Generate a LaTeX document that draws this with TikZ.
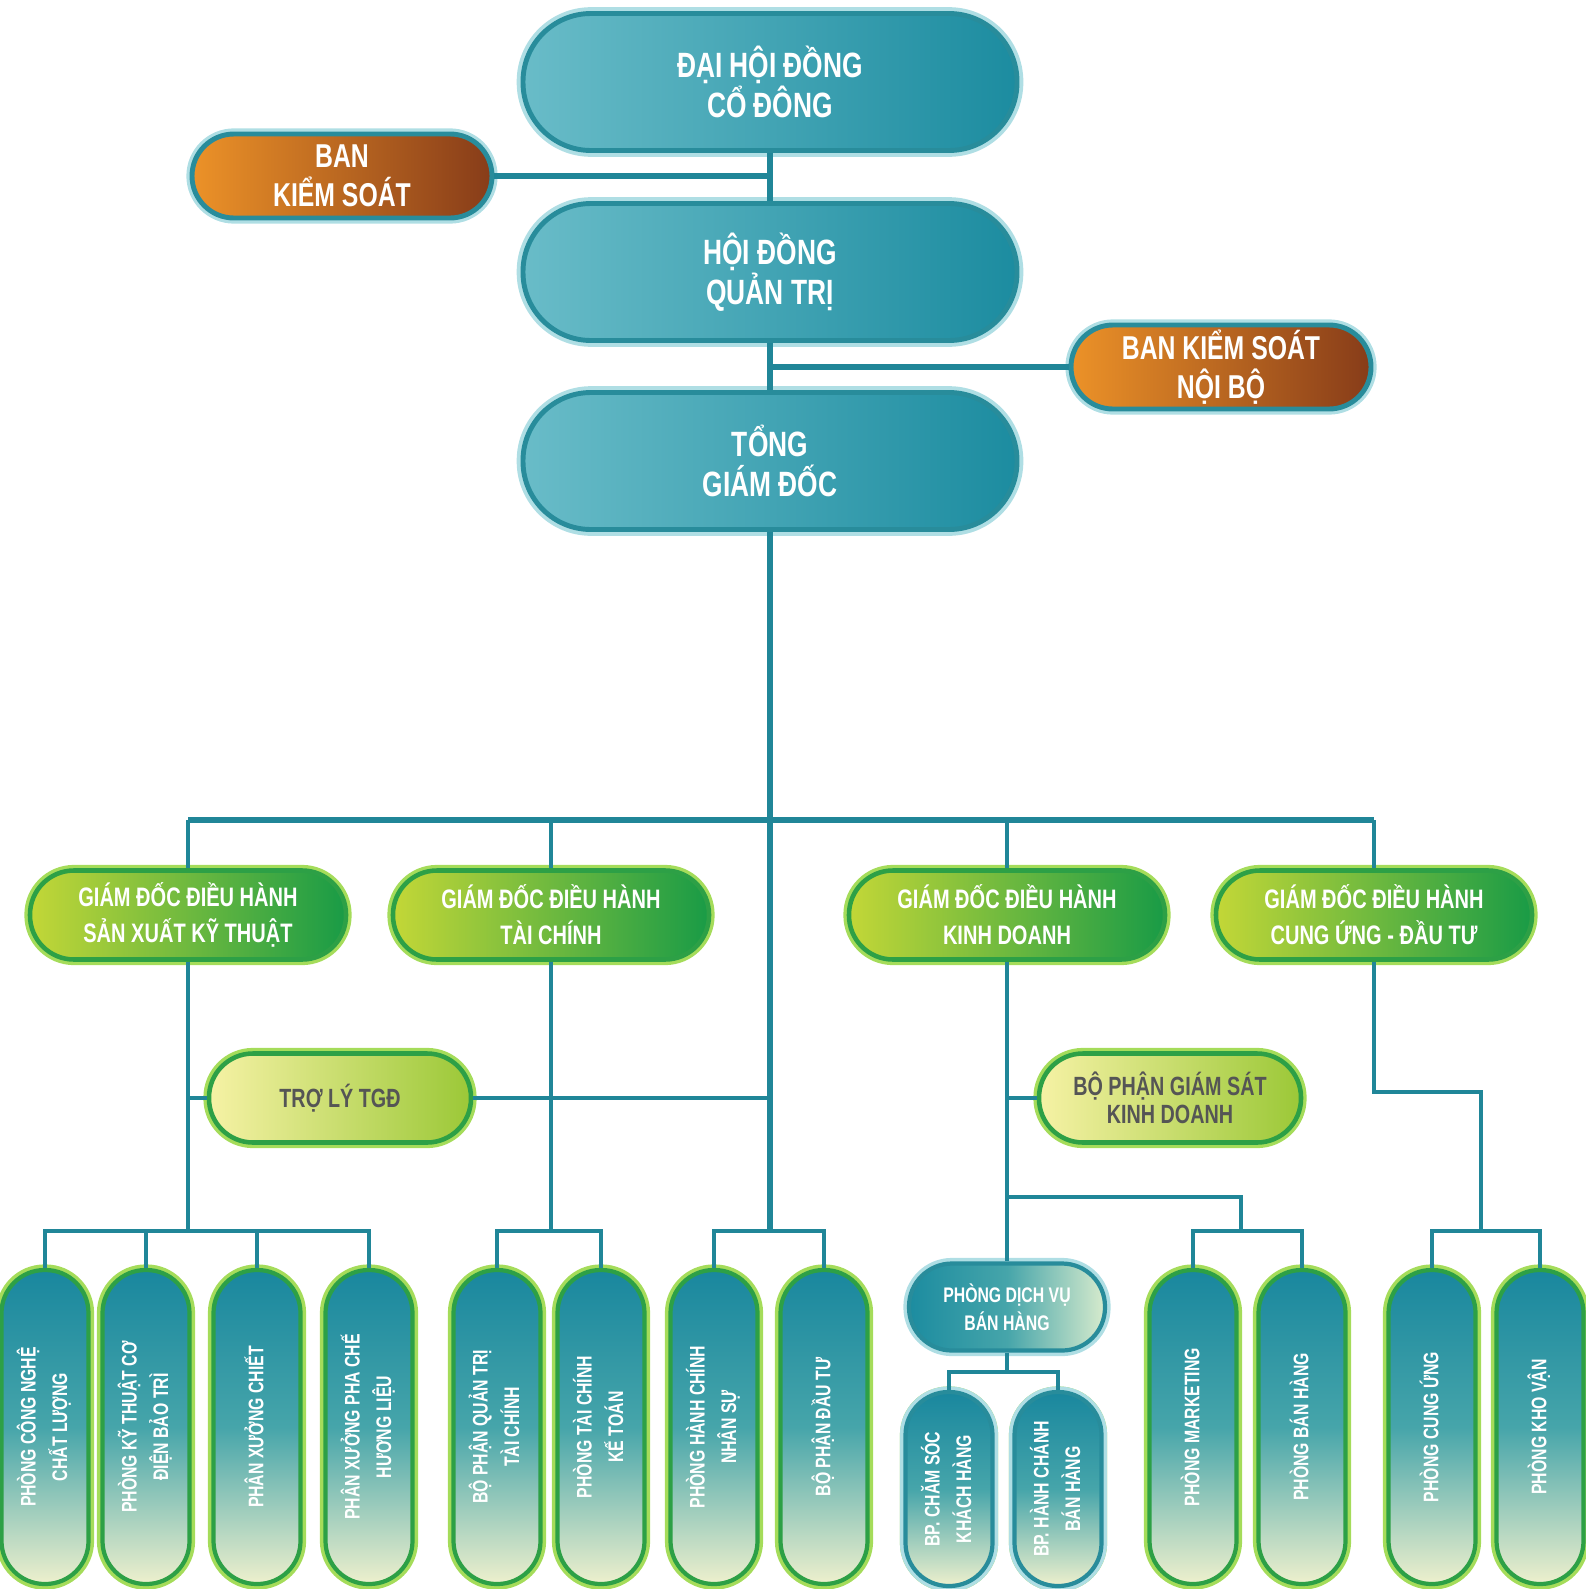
\documentclass[tikz,border=0pt]{standalone}
\usepackage{fontspec}
\usepackage{graphicx}
\usepackage{tikz}
\usetikzlibrary{calc}
\newfontfamily\orgfont[FakeStretch=0.75]{Liberation Sans}

\definecolor{linecol}{RGB}{32,134,152}
\definecolor{topL}{RGB}{105,188,200}
\definecolor{topR}{RGB}{28,140,160}
\definecolor{topB}{RGB}{40,140,155}
\definecolor{topG}{RGB}{175,222,228}
\definecolor{orL}{RGB}{236,146,40}
\definecolor{orR}{RGB}{135,60,25}
\definecolor{gdL}{RGB}{195,215,55}
\definecolor{gdR}{RGB}{25,155,70}
\definecolor{gdB}{RGB}{45,160,70}
\definecolor{gdG}{RGB}{165,220,90}
\definecolor{asL}{RGB}{246,242,165}
\definecolor{asR}{RGB}{155,200,55}
\definecolor{asT}{RGB}{85,85,85}
\definecolor{vT}{RGB}{25,135,158}
\definecolor{vM}{RGB}{70,165,170}
\definecolor{vB}{RGB}{238,240,205}
\definecolor{dvR}{RGB}{215,235,205}

\newcommand{\vlab}[1]{\rotatebox{90}{\begin{tabular}{@{}c@{}}#1\end{tabular}}}

\tikzset{
	link/.style={draw=linecol, line width=1.3pt},
	mainlink/.style={draw=linecol, line width=1.7pt},
	topbox/.style={rectangle, rounded corners=0.68cm, minimum width=4.94cm, minimum height=1.37cm,
		inner sep=0pt, align=center, text=white, left color=topL, right color=topR,
		draw=topB, line width=1.4pt, preaction={draw=topG, line width=3.6pt},
		font=\orgfont\bfseries\fontsize{10}{11.4}\selectfont},
	orangebox/.style={rectangle, rounded corners=0.42cm, minimum width=3.0cm, minimum height=0.84cm,
		inner sep=0pt, align=center, text=white, left color=orL, right color=orR,
		draw=topB, line width=1.4pt, preaction={draw=topG, line width=3.2pt},
		font=\orgfont\bfseries\fontsize{9.4}{11}\selectfont},
	gdbox/.style={rectangle, rounded corners=0.44cm, minimum width=3.16cm, minimum height=0.89cm,
		inner sep=0pt, align=center, text=white, left color=gdL, right color=gdR,
		draw=gdB, line width=1.3pt, preaction={draw=gdG, line width=3.2pt},
		font=\orgfont\bfseries\fontsize{7.6}{10.3}\selectfont},
	assistbox/.style={rectangle, rounded corners=0.44cm, minimum width=2.62cm, minimum height=0.89cm,
		inner sep=0pt, align=center, text=asT, left color=asL, right color=asR,
		draw=gdB, line width=1.3pt, preaction={draw=gdG, line width=3.2pt},
		font=\orgfont\bfseries\fontsize{7.5}{7.9}\selectfont},
	vbox/.style={rectangle, rounded corners=0.43cm, minimum width=0.87cm, minimum height=3.14cm,
		inner sep=0pt, text=white, top color=vT, bottom color=vB, middle color=vM,
		draw=gdB, line width=1.2pt, preaction={draw=gdG, line width=3.2pt},
		font=\orgfont\bfseries\fontsize{6}{9}\selectfont},
	vsbox/.style={vbox, minimum height=1.94cm, draw=topB, preaction={draw=topG, line width=3.2pt}},
	dvbox/.style={rectangle, rounded corners=0.43cm, minimum width=1.96cm, minimum height=0.87cm,
		inner sep=0pt, align=center, text=white, left color=topR, right color=dvR, middle color=vM,
		draw=topB, line width=1.2pt, preaction={draw=topG, line width=3.2pt},
		font=\orgfont\bfseries\fontsize{6}{8}\selectfont},
}

\begin{document}
\begin{tikzpicture}[x=0.1mm, y=-0.1mm]
	\useasboundingbox (0,0) rectangle (1585,1589);

	% Vertice
	\node[topbox] (dhdcd) at (770,82) {ĐẠI HỘI ĐỒNG\\CỔ ĐÔNG};
	\node[orangebox] (bks) at (342,176) {BAN\\KIỂM SOÁT};
	\node[topbox] (hdqt) at (770,272) {HỘI ĐỒNG\\QUẢN TRỊ};
	\node[orangebox] (bksnb) at (1221,367) {BAN KIỂM SOÁT\\NỘI BỘ};
	\node[topbox] (tgd) at (770,461) {TỔNG\\GIÁM ĐỐC};

	% Giam doc dieu hanh
	\node[gdbox] (gd1) at (188,915) {GIÁM ĐỐC ĐIỀU HÀNH\\SẢN XUẤT KỸ THUẬT};
	\node[gdbox] (gd2) at (551,915) {GIÁM ĐỐC ĐIỀU HÀNH\\TÀI CHÍNH};
	\node[gdbox] (gd3) at (1007,915) {GIÁM ĐỐC ĐIỀU HÀNH\\KINH DOANH};
	\node[gdbox] (gd4) at (1374,915) {GIÁM ĐỐC ĐIỀU HÀNH\\CUNG ỨNG - ĐẦU TƯ};

	\node[assistbox] (tro) at (340,1098) {TRỢ LÝ TGĐ};
	\node[assistbox] (gsk) at (1170,1098) {BỘ PHẬN GIÁM SÁT\\KINH DOANH};

	% Phong ban
	\node[vbox] (p1) at (45,1427) {\vlab{PHÒNG CÔNG NGHỆ\\CHẤT LƯỢNG}};
	\node[vbox] (p2) at (146,1427) {\vlab{PHÒNG KỸ THUẬT CƠ\\ĐIỆN BẢO TRÌ}};
	\node[vbox] (p3) at (257,1427) {\vlab{PHÂN XƯỞNG CHIẾT}};
	\node[vbox] (p4) at (369,1427) {\vlab{PHÂN XƯỞNG PHA CHẾ\\HƯƠNG LIỆU}};
	\node[vbox] (p5) at (497,1427) {\vlab{BỘ PHẬN QUẢN TRỊ\\TÀI CHÍNH}};
	\node[vbox] (p6) at (601,1427) {\vlab{PHÒNG TÀI CHÍNH\\KẾ TOÁN}};
	\node[vbox] (p7) at (714,1427) {\vlab{PHÒNG HÀNH CHÍNH\\NHÂN SỰ}};
	\node[vbox] (p8) at (824,1427) {\vlab{BỘ PHẬN ĐẦU TƯ}};
	\node[dvbox] (dv) at (1007,1307) {PHÒNG DỊCH VỤ\\BÁN HÀNG};
	\node[vsbox] (p10) at (949,1489) {\vlab{BP. CHĂM SÓC\\KHÁCH HÀNG}};
	\node[vsbox] (p11) at (1058,1489) {\vlab{BP. HÀNH CHÁNH\\BÁN HÀNG}};
	\node[vbox] (p12) at (1193,1427) {\vlab{PHÒNG MARKETING}};
	\node[vbox] (p13) at (1302,1427) {\vlab{PHÒNG BÁN HÀNG}};
	\node[vbox] (p14) at (1432,1427) {\vlab{PHÒNG CUNG ỨNG}};
	\node[vbox] (p15) at (1540,1427) {\vlab{PHÒNG KHO VẬN}};

	\coordinate[](bus) at (0,820);
	\coordinate[](low) at (0,1231);
	\coordinate[](kd) at (1241,1197);
	\coordinate[](cu) at (1481,1092);
	\coordinate[](sub) at (0,1372);

	% Linee
	\draw[mainlink] (dhdcd.south) -- (hdqt.north);
	\draw[mainlink] (hdqt.south) -- (tgd.north);
	\draw[mainlink] (tgd.south) -- (tgd |- low);
	\draw[mainlink] (bks.east) -- (bks.east -| dhdcd);
	\draw[mainlink] (bksnb.west) -- (bksnb.west -| hdqt);
	\draw[mainlink] (gd1 |- bus) -- (gd4 |- bus);
	\draw[link] (gd1.north) -- (gd1 |- bus);
	\draw[link] (gd2.north) -- (gd2 |- bus);
	\draw[link] (gd3.north) -- (gd3 |- bus);
	\draw[link] (gd4.north) -- (gd4 |- bus);

	\draw[link] (gd1.south) -- (gd1 |- low);
	\draw[link] (gd1 |- tro) -- (tro.west);
	\draw[link] (tro.east) -- (tro -| tgd);
	\draw[link] (gd2.south) -- (gd2 |- low);
	\draw[link] (gd3.south) -- (dv.north);
	\draw[link] (gd3 |- gsk) -- (gsk.west);
	\draw[link] (gd3 |- kd) -- (kd) -- (kd |- low);
	\draw[link] (gd4.south) -- (gd4 |- cu) -- (cu) -- (cu |- low);

	%% Nhom duoi
	\draw[link] (p1.north) -- (p1 |- low) -- (p4 |- low) -- (p4.north);
	\draw[link] (p2.north) -- (p2 |- low);
	\draw[link] (p3.north) -- (p3 |- low);
	\draw[link] (p5.north) -- (p5 |- low) -- (p6 |- low) -- (p6.north);
	\draw[link] (p7.north) -- (p7 |- low) -- (p8 |- low) -- (p8.north);
	\draw[link] (p12.north) -- (p12 |- low) -- (p13 |- low) -- (p13.north);
	\draw[link] (p14.north) -- (p14 |- low) -- (p15 |- low) -- (p15.north);
	\draw[link] (dv.south) -- (dv |- sub);
	\draw[link] (p10.north) -- (p10 |- sub) -- (p11 |- sub) -- (p11.north);
\end{tikzpicture}
\end{document}
